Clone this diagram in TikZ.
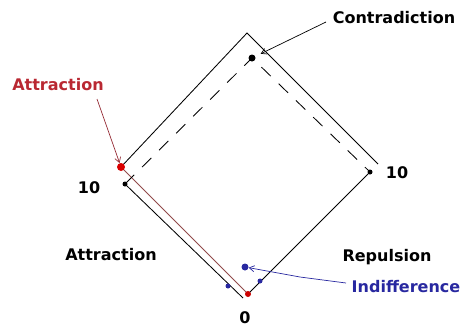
\documentclass[tikz,border=0pt]{standalone}
\usepackage{fontspec}
\setmainfont{DejaVu Sans}
\usetikzlibrary{arrows.meta}
\definecolor{attred}{RGB}{185,40,50}
\definecolor{indblue}{RGB}{40,40,160}
\definecolor{brownline}{RGB}{145,75,75}
\definecolor{leadred}{RGB}{150,45,55}
\begin{document}
\begin{tikzpicture}[x=1pt,y=-1pt,
  lbl/.style={font=\fontsize{16}{18}\selectfont\bfseries, inner sep=0pt},
  edge/.style={line width=0.85pt},
  dashedge/.style={line width=0.85pt, dash pattern=on 13pt off 11pt},
  dot/.style={circle, fill, inner sep=0pt, minimum size=#1},
  dot/.default=6pt,
  leader/.style={line width=0.7pt, -{Straight Barb[length=5pt,width=6pt]}}]
\useasboundingbox (0,0) rectangle (466,333);
% corner points
\coordinate (OL) at (121,167);
\coordinate (OT) at (247,33);
\coordinate (OR) at (378,164);
\coordinate (OB) at (248,294);
\coordinate (IL) at (125,184);
\coordinate (IT) at (252,58);
\coordinate (IR) at (370,172);
\coordinate (IB) at (243,298);
% square sides
\draw[edge] (OL) -- (OT) -- (OR);
\draw[edge, brownline] (OL) -- (OB);
\draw[edge] (IL) -- (IB);
\draw[edge] (IR) -- (OB);
\draw[dashedge] (IL) -- (IT) -- (IR);
% dots
\node[dot=8pt, fill=red!85!black] (dOL) at (OL) {};
\node[dot=6pt, fill=red!80!black] (dOB) at (OB) {};
\node[dot=7pt, fill=black] (dIT) at (IT) {};
\node[dot=5pt, fill=black] (dIR) at (IR) {};
\node[dot=5pt, fill=black] (dIL) at (IL) {};
\node[dot=5pt, fill=indblue] (b1) at (228,286) {};
\node[dot=5pt, fill=indblue] (b2) at (260,281) {};
\node[dot=7pt, fill=indblue] (b3) at (245,267) {};
% labels
\node[lbl] (contra) at (394,18) {Contradiction};
\node[lbl, attred] (attr) at (58,85) {Attraction};
\node[lbl] (tenL) at (89,188) {10};
\node[lbl] (tenR) at (397,173) {10};
\node[lbl] (attr2) at (111,255) {Attraction};
\node[lbl] (rep) at (387,257) {Repulsion};
\node[lbl, indblue] (indif) at (406,287) {Indifference};
\node[lbl] (zero) at (245,318) {0};
% leaders
\coordinate (cstart) at (326,22);
\draw[leader, shorten >=6pt] (cstart) -- (dIT);
\coordinate (astart) at (97,99);
\draw[leader, leadred] (astart) -- (dOL);
\coordinate (istart) at (346,283);
\coordinate (imid) at (300,277);
\draw[leader, indblue] (istart) -- (imid) -- (b3);
\end{tikzpicture}
\end{document}
